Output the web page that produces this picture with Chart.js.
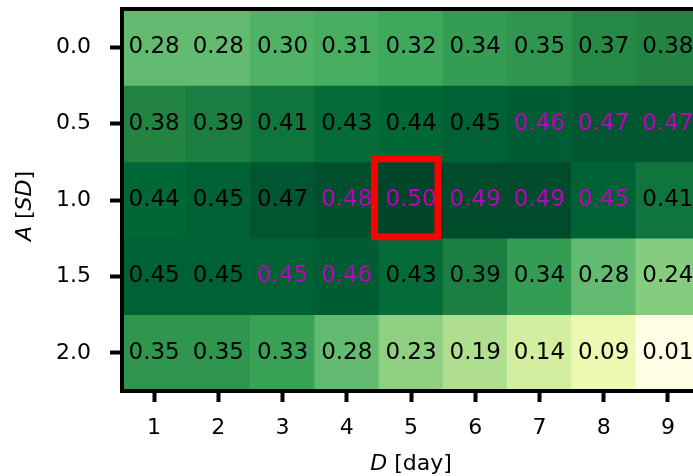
<!DOCTYPE html>
<html>
<head>
<meta charset="utf-8">
<script src="https://cdn.jsdelivr.net/npm/chart.js@4/dist/chart.umd.min.js"></script>
<style>
  html, body { margin: 0; padding: 0; background: #fff; overflow: hidden; }
  #wrap { width: 760px; height: 476px; }
</style>
</head>
<body>
<div id="wrap"><canvas id="heat"></canvas></div>
<script>
// duration of the window, days
const daysD = ["1", "2", "3", "4", "5", "6", "7", "8", "9"];
// amplitude, in standard deviations
const ampA = [0.0, 0.5, 1.0, 1.5, 2.0];

const row00 = [0.28, 0.28, 0.30, 0.31, 0.32, 0.34, 0.35, 0.37, 0.38];
const row05 = [0.38, 0.39, 0.41, 0.43, 0.44, 0.45, 0.46, 0.47, 0.47];
const row10 = [0.44, 0.45, 0.47, 0.48, 0.50, 0.49, 0.49, 0.45, 0.41];
const row15 = [0.45, 0.45, 0.45, 0.46, 0.43, 0.39, 0.34, 0.28, 0.24];
const row20 = [0.35, 0.35, 0.33, 0.28, 0.23, 0.19, 0.14, 0.09, 0.01];
const rows = [row00, row05, row10, row15, row20];

// cells whose label is printed in magenta
const mark00 = [0, 0, 0, 0, 0, 0, 0, 0, 0];
const mark05 = [0, 0, 0, 0, 0, 0, 1, 1, 1];
const mark10 = [0, 0, 0, 1, 1, 1, 1, 1, 0];
const mark15 = [0, 0, 1, 1, 0, 0, 0, 0, 0];
const mark20 = [0, 0, 0, 0, 0, 0, 0, 0, 0];
const marks = [mark00, mark05, mark10, mark15, mark20];

// best cell outline (D, A ranges)
const boxD = [4.43, 5.42];
const boxA = [0.73, 1.24];

// YlGn colormap
const ylgn = ["#ffffe5", "#f7fcb9", "#d9f0a3", "#addd8e", "#78c679", "#41ab5d", "#238443", "#006837", "#004529"];

function hexRgb(h) {
  return [parseInt(h.slice(1, 3), 16), parseInt(h.slice(3, 5), 16), parseInt(h.slice(5, 7), 16)];
}

const allVals = rows.flat();
const vmin = Math.min(...allVals);
const vmax = Math.max(...allVals);

function cmap(v) {
  let t = (v - vmin) / (vmax - vmin);
  t = Math.max(0, Math.min(1, t)) * (ylgn.length - 1);
  const i = Math.min(Math.floor(t), ylgn.length - 2);
  const f = t - i;
  const a = hexRgb(ylgn[i]), b = hexRgb(ylgn[i + 1]);
  const c = a.map((x, k) => Math.round(x + (b[k] - x) * f));
  return "rgb(" + c.join(",") + ")";
}

const half = (ampA[1] - ampA[0]) / 2;
const font = "DejaVu Sans";

const datasets = ampA.map((a, r) => ({
  data: rows[r].map(() => [a - half, a + half]),
  backgroundColor: rows[r].map(cmap),
  borderWidth: 0,
  grouped: false,
  barPercentage: 1,
  categoryPercentage: 1,
}));

const cellText = {
  id: "cellText",
  afterDatasetsDraw(chart) {
    const ctx = chart.ctx;
    const xs = chart.scales.x, ys = chart.scales.y;
    const area = chart.chartArea;
    ctx.save();
    ctx.font = "23px '" + font + "'";
    ctx.textAlign = "center";
    ctx.textBaseline = "middle";
    rows.forEach((row, r) => {
      row.forEach((v, c) => {
        ctx.fillStyle = marks[r][c] ? "#bf00bf" : "#000";
        ctx.fillText(v.toFixed(2), xs.getPixelForValue(c), ys.getPixelForValue(ampA[r]));
      });
    });

    // red outline around the best cell
    ctx.strokeStyle = "#ff0000";
    ctx.lineWidth = 7;
    ctx.lineJoin = "round";
    const x0 = xs.getPixelForValue(boxD[0] - 1), x1 = xs.getPixelForValue(boxD[1] - 1);
    const y0 = ys.getPixelForValue(boxA[0]), y1 = ys.getPixelForValue(boxA[1]);
    ctx.strokeRect(x0, y0, x1 - x0, y1 - y0);

    // frame
    ctx.strokeStyle = "#000";
    ctx.lineWidth = 4;
    ctx.lineJoin = "miter";
    ctx.strokeRect(area.left, area.top, area.right - area.left, area.bottom - area.top);

    // axis titles, with italic symbols
    const drawTitle = (parts, cx, cy, rot) => {
      ctx.save();
      ctx.translate(cx, cy);
      ctx.rotate(rot);
      ctx.fillStyle = "#000";
      ctx.textAlign = "left";
      ctx.textBaseline = "middle";
      let w = 0;
      parts.forEach(p => { ctx.font = (p[1] ? "italic " : "") + "22px '" + font + "'"; w += ctx.measureText(p[0]).width; });
      let x = -w / 2;
      parts.forEach(p => {
        ctx.font = (p[1] ? "italic " : "") + "22px '" + font + "'";
        ctx.fillText(p[0], x, 0);
        x += ctx.measureText(p[0]).width;
      });
      ctx.restore();
    };
    drawTitle([["D", true], [" [day]", false]], (area.left + area.right) / 2, 464, 0);
    drawTitle([["A", true], [" [", false], ["SD", true], ["]", false]], 25, (area.top + area.bottom) / 2 + 6, -Math.PI / 2);
    ctx.restore();
  },
};

new Chart(document.getElementById("heat"), {
  type: "bar",
  data: { labels: daysD, datasets: datasets },
  options: {
    responsive: true,
    maintainAspectRatio: false,
    animation: false,
    layout: { padding: { top: 9, right: 60, left: 0, bottom: 0 } },
    plugins: { legend: { display: false }, tooltip: { enabled: false } },
    scales: {
      x: {
        type: "category",
        offset: true,
        border: { display: false },
        grid: { offset: false, drawOnChartArea: false, tickLength: 11, tickWidth: 4, tickColor: "#000" },
        ticks: { color: "#000", font: { family: font, size: 22 }, padding: 13, maxRotation: 0 },
        afterFit(s) { s.height = 85; s.paddingLeft = 0; s.paddingRight = 0; },
      },
      y: {
        type: "linear",
        reverse: true,
        min: ampA[0] - half,
        max: ampA[ampA.length - 1] + half,
        border: { display: false },
        grid: { drawOnChartArea: false, tickLength: 12, tickWidth: 4, tickColor: "#000" },
        ticks: { color: "#000", font: { family: font, size: 22 }, padding: 19, callback: v => Number(v).toFixed(1) },
        afterBuildTicks(s) { s.ticks = ampA.map(v => ({ value: v })); },
        afterFit(s) { s.width = 122; s.paddingTop = 0; s.paddingBottom = 0; },
      },
    },
  },
  plugins: [cellText],
});
</script>
</body>
</html>
